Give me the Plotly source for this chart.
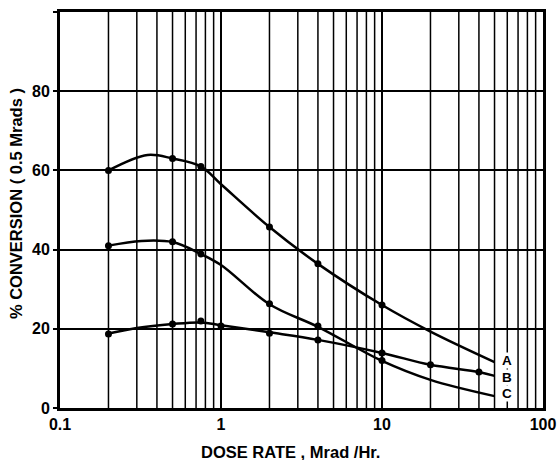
import math
import plotly.graph_objects as go

# ---- data ----
# measured points (markers)
a_x = [0.2, 0.5, 0.75, 2, 4, 10]
a_y = [60, 63, 61, 45.7, 36.4, 26]
b_x = [0.2, 0.5, 0.75, 1, 2, 4, 10, 20, 40]
b_y = [18.7, 21.2, 22, 20.7, 18.9, 17.2, 13.9, 10.9, 9.1]
c_x = [0.2, 0.5, 0.75, 2, 4, 10]
c_y = [41, 42, 38.9, 26.3, 20.7, 12]

# smooth curves (including the drawn tails to 50)
a_curve_x = [0.2, 0.35, 0.5, 0.75, 1, 2, 4, 10, 20, 50]
a_curve_y = [60, 63.9, 63, 61, 56.5, 45.7, 36.4, 26, 19.3, 11.6]
b_curve_x = [0.2, 0.3, 0.5, 0.75, 1, 2, 4, 10, 20, 40, 50]
b_curve_y = [18.8, 20.2, 21.2, 21.6, 20.9, 19.1, 17.2, 13.9, 10.9, 9.1, 8.1]
c_curve_x = [0.2, 0.32, 0.5, 0.75, 1, 2, 4, 10, 20, 50]
c_curve_y = [41, 42.2, 41.9, 38.9, 36.1, 26.2, 20.5, 11.9, 7.1, 3.0]

curve_labels = ["A", "B", "C"]
label_y = [12.0, 7.8, 3.6]
label_x = 60

x_tickvals = [0.1, 1, 10, 100]
x_ticktext = ["0.1", "1", "10", "100"]
y_tickvals = [0, 20, 40, 60, 80, 100]
y_ticktext = ["0", "20", "40", "60", "80", ""]

x_title = "DOSE RATE , Mrad /Hr."
y_title = "% CONVERSION ( 0.5 Mrads )"

# minor grid positions (2..9 in each decade)
x_minor = [m * d for d in (0.1, 1, 10) for m in range(2, 10)]

FONT = "Liberation Sans, Arial, sans-serif"

fig = go.Figure()

for cx, cy in [(a_curve_x, a_curve_y), (b_curve_x, b_curve_y), (c_curve_x, c_curve_y)]:
    fig.add_trace(go.Scatter(x=cx, y=cy, mode="lines",
                             line=dict(color="black", width=2.5, shape="spline", smoothing=1.0),
                             hoverinfo="skip", showlegend=False))

for px, py in [(a_x, a_y), (b_x, b_y), (c_x, c_y)]:
    fig.add_trace(go.Scatter(x=px, y=py, mode="markers",
                             marker=dict(color="black", size=7),
                             showlegend=False))

# minor vertical gridlines
for v in x_minor:
    fig.add_shape(type="line", xref="x", yref="paper", x0=v, x1=v, y0=0, y1=1,
                  line=dict(color="black", width=1.5), layer="below")

for lab, ly in zip(curve_labels, label_y):
    fig.add_annotation(x=math.log10(label_x), y=ly, text="<b>%s</b>" % lab,
                       showarrow=False, font=dict(family=FONT, size=13.5, color="black"),
                       bgcolor="white", borderpad=0, xanchor="center", yanchor="middle")

fig.add_annotation(xref="paper", yref="paper", x=0.477, y=-0.111, text="<b>%s</b>" % x_title,
                   showarrow=False, font=dict(family=FONT, size=16.5, color="black"),
                   xanchor="center", yanchor="middle")
fig.add_annotation(xref="paper", yref="paper", x=-0.091, y=0.515, text="<b>%s</b>" % y_title,
                   showarrow=False, textangle=-90, font=dict(family=FONT, size=16.5, color="black"),
                   xanchor="center", yanchor="middle")

fig.update_layout(
    width=559, height=460,
    margin=dict(l=60, r=16, t=12, b=52),
    paper_bgcolor="white", plot_bgcolor="white",
    font=dict(family=FONT, color="black"),
    showlegend=False,
)
fig.update_xaxes(type="log", range=[-1, 2], tickvals=x_tickvals, ticktext=x_ticktext,
                 showgrid=True, gridcolor="black", gridwidth=1.5,
                 showline=True, linecolor="black", linewidth=3, mirror=True,
                 ticks="", zeroline=False, automargin=False,
                 tickfont=dict(family=FONT, size=16, color="black", weight="bold"))
fig.update_yaxes(range=[0, 100], tickvals=y_tickvals, ticktext=y_ticktext,
                 showgrid=True, gridcolor="black", gridwidth=1.5,
                 showline=True, linecolor="black", linewidth=3, mirror=True,
                 ticks="outside", ticklen=4, tickwidth=1.5, tickcolor="black", zeroline=False,
                 automargin=False,
                 tickfont=dict(family=FONT, size=16, color="black", weight="bold"))

# remove the page's default body margin so the 559x460 figure fills the window exactly
fig.write_html("out.html", config={"displayModeBar": False},
               post_script="document.body.style.margin='0';document.body.style.overflow='hidden';")
